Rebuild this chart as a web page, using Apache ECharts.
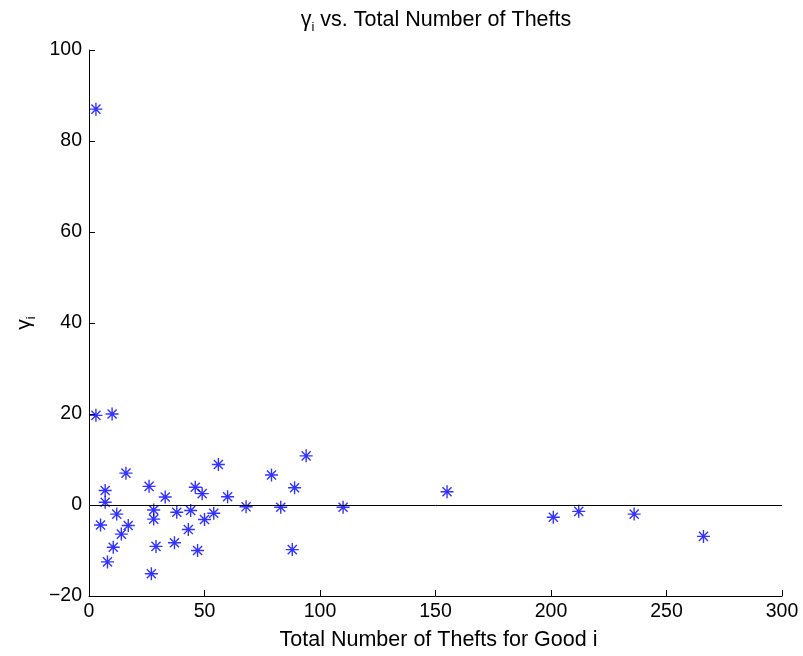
<!DOCTYPE html>
<html>
<head>
<meta charset="utf-8">
<script src="https://cdn.jsdelivr.net/npm/echarts@6/dist/echarts.min.js"></script>
<style>html,body{margin:0;padding:0;background:#fff;}#c{width:803px;height:656px;}</style>
</head>
<body>
<div id="c"></div>
<script>
var thefts = [3, 3, 10, 16, 7, 7, 5, 12, 17, 14, 10.5, 8, 26, 28, 28, 29, 27, 33, 38, 37, 43, 44, 46, 49, 47, 50, 54, 56, 60, 68, 79, 94, 89, 83, 88, 110, 155, 201, 212, 236, 266];
var gammas = [87, 19.7, 20, 7, 3.2, 0.6, -4.4, -2, -4.5, -6.4, -9.3, -12.5, 4.1, -1.1, -3.1, -9.1, -15.1, 1.75, -1.6, -8.3, -5.4, -1.2, 3.9, 2.5, -10, -3.2, -1.8, 8.9, 1.8, -0.4, 6.6, 10.8, 3.8, -0.5, -9.8, -0.5, 2.9, -2.7, -1.4, -2, -6.9];
var xTicks = [0, 50, 100, 150, 200, 250, 300];
var yTicks = [-20, 0, 20, 40, 60, 80, 100];

var pts = thefts.map(function (x, i) { return [x, gammas[i]]; });
var FONT = '"Liberation Sans", Arial, Helvetica, sans-serif';
var chart = echarts.init(document.getElementById('c'));
chart.setOption({
  animation: false,
  backgroundColor: '#fff',
  graphic: [{
    type: 'text',
    x: 436, y: 6,
    style: {
      text: '{g|γ}{s|i}{t| vs. Total Number of Thefts}',
      align: 'center',
      verticalAlign: 'top',
      rich: {
        g: { fontFamily: FONT, fontSize: 21.5, color: '#000' },
        s: { fontFamily: FONT, fontSize: 13, color: '#000', padding: [15, 0, 0, 0] },
        t: { fontFamily: FONT, fontSize: 21.5, color: '#000' }
      }
    }
  }],
  grid: { left: 89, right: 21, top: 50, bottom: 58, containLabel: false },
  xAxis: {
    type: 'value',
    min: xTicks[0], max: xTicks[xTicks.length - 1], interval: 50,
    name: 'Total Number of Thefts for Good i',
    nameLocation: 'middle', nameGap: 33,
    nameTextStyle: { fontFamily: FONT, fontSize: 21.5, color: '#000', padding: [0, 0, 0, 6] },
    axisLine: { show: true, onZero: false, lineStyle: { color: '#000', width: 1 } },
    axisTick: { show: true, inside: true, length: 6, lineStyle: { color: '#000' } },
    axisLabel: { fontFamily: FONT, fontSize: 19.5, color: '#000', margin: 6 },
    splitLine: { show: false }
  },
  yAxis: {
    type: 'value',
    min: yTicks[0], max: yTicks[yTicks.length - 1], interval: 20,
    name: '{g|γ}{s|i}',
    nameLocation: 'middle', nameGap: 51, nameRotate: 90,
    nameTextStyle: {
      fontFamily: FONT,
      rich: {
        g: { fontFamily: FONT, fontSize: 21, color: '#000' },
        s: { fontFamily: FONT, fontSize: 13, color: '#000', padding: [14, 0, 0, 0] }
      }
    },
    axisLine: { show: true, onZero: false, lineStyle: { color: '#000', width: 1 } },
    axisTick: { show: true, inside: true, length: 6, lineStyle: { color: '#000' } },
    axisLabel: {
      fontFamily: FONT, fontSize: 19.5, color: '#000', margin: 7,
      formatter: function (v) { return String(v).replace('-', '\u2212'); }
    },
    splitLine: { show: false }
  },
  series: [{
    type: 'scatter',
    data: pts,
    symbol: 'path://M0,-10L0,10M-10,0L10,0M-7,-7L7,7M-7,7L7,-7',
    symbolSize: 13,
    itemStyle: { color: 'rgba(0,0,0,0)', borderColor: '#0000ff', borderWidth: 1.4 },
    markLine: {
      silent: true,
      symbol: ['none', 'none'],
      label: { show: false },
      lineStyle: { color: '#000', width: 1, type: 'solid' },
      data: [{ yAxis: 0 }]
    },
    z: 3
  }]
});
</script>
</body>
</html>
